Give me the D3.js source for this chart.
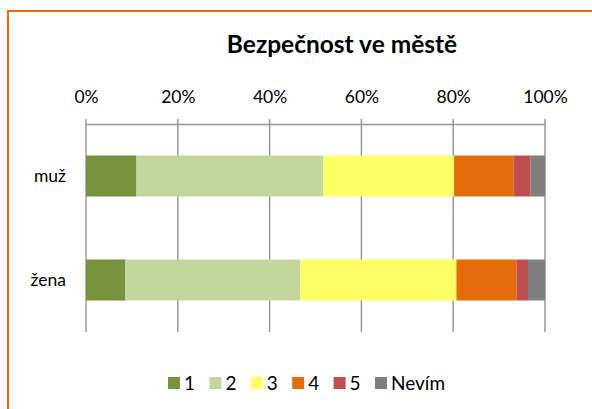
<!DOCTYPE html>
<html>
<head>
<meta charset="utf-8">
<script src="https://cdn.jsdelivr.net/npm/d3@7"></script>
<style>
  body { margin: 0; background: #fff; }
  svg { display: block; font-family: Lato, "Liberation Sans", sans-serif; }
</style>
</head>
<body>
<div id="app"></div>
<script>
// ---------- Data ----------
const categories = ["muž", "žena"];
const seriesNames = ["1", "2", "3", "4", "5", "Nevím"];
const seriesColors = ["#77933C", "#C3D69B", "#FFFF66", "#E46C0A", "#C0504D", "#7F7F7F"];
// percentage share per category, same order as seriesNames
const valuesMuz = [11.0, 40.7, 28.5, 13.0, 3.6, 3.2];
const valuesZena = [8.6, 38.1, 34.0, 13.1, 2.5, 3.7];
const tickValues = [0, 20, 40, 60, 80, 100];

// ---------- Layout ----------
const WIDTH = 592, HEIGHT = 409;
const PLOT_LEFT = 86, PLOT_RIGHT = 545;
const PLOT_TOP = 124, PLOT_BOTTOM = 332;

const svg = d3.select("#app").append("svg")
    .attr("width", WIDTH)
    .attr("height", HEIGHT);

// chart frame (right/bottom edges fall outside the picture)
svg.append("rect")
    .attr("x", 8).attr("y", 11)
    .attr("width", WIDTH).attr("height", HEIGHT)
    .attr("fill", "#fff")
    .attr("stroke", "#E46C0A")
    .attr("stroke-width", 2);

// title
svg.append("text")
    .attr("x", 342).attr("y", 53)
    .attr("text-anchor", "middle")
    .style("font-size", "24.5px")
    .style("font-weight", "bold")
    .text("Bezpečnost ve městě");

// ---------- Scales ----------
const x = d3.scaleLinear().domain([0, 100]).range([PLOT_LEFT, PLOT_RIGHT]);
const y = d3.scaleBand().domain(categories)
    .range([PLOT_TOP, PLOT_BOTTOM])
    .paddingInner(0.606)
    .paddingOuter(0.303);

// ---------- Gridlines ----------
svg.append("g")
    .selectAll("line")
    .data(tickValues)
    .join("line")
    .attr("x1", d => x(d)).attr("x2", d => x(d))
    .attr("y1", PLOT_TOP - 5).attr("y2", PLOT_BOTTOM)
    .attr("stroke", "#999")
    .attr("stroke-width", 1.5);

// ---------- Stacked bars ----------
const rows = categories.map((c, i) => {
    const vals = i === 0 ? valuesMuz : valuesZena;
    const row = { cat: c };
    seriesNames.forEach((s, j) => row[s] = vals[j]);
    return row;
});
const stacked = d3.stack().keys(seriesNames)(rows);

svg.append("g")
    .selectAll("g")
    .data(stacked)
    .join("g")
    .attr("fill", (d, i) => seriesColors[i])
    .selectAll("rect")
    .data(d => d)
    .join("rect")
    .attr("x", d => x(d[0]))
    .attr("width", d => x(d[1]) - x(d[0]))
    .attr("y", d => y(d.data.cat))
    .attr("height", y.bandwidth());

// ---------- Axes ----------
const axisTop = d3.axisTop(x)
    .tickValues(tickValues)
    .tickFormat(d => d + "%")
    .tickSize(0)
    .tickSizeOuter(0)
    .tickPadding(21);
const gx = svg.append("g")
    .attr("transform", `translate(0, ${PLOT_TOP})`)
    .call(axisTop);
gx.select(".domain").attr("stroke", "#999").attr("stroke-width", 1.5);
gx.selectAll("text")
    .attr("fill", "#000")
    .style("font-size", "17.5px")
    .style("font-family", "Lato, 'Liberation Sans', sans-serif");

const axisLeft = d3.axisLeft(y).tickSize(0).tickPadding(20);
const gy = svg.append("g")
    .attr("transform", `translate(${PLOT_LEFT}, 0)`)
    .call(axisLeft);
gy.select(".domain").remove();
gy.selectAll("text")
    .attr("fill", "#000")
    .style("font-size", "17.5px")
    .style("font-family", "Lato, 'Liberation Sans', sans-serif");

// ---------- Legend ----------
const legendX = d3.scalePoint().domain(seriesNames).range([168, 375]);
const legend = svg.append("g")
    .selectAll("g")
    .data(seriesNames)
    .join("g")
    .attr("transform", d => `translate(${legendX(d)}, 377)`);
legend.append("rect")
    .attr("width", 12).attr("height", 12)
    .attr("fill", (d, i) => seriesColors[i]);
legend.append("text")
    .attr("x", 16).attr("y", 12.5)
    .style("font-size", "19px")
    .text(d => d);
</script>
</body>
</html>
